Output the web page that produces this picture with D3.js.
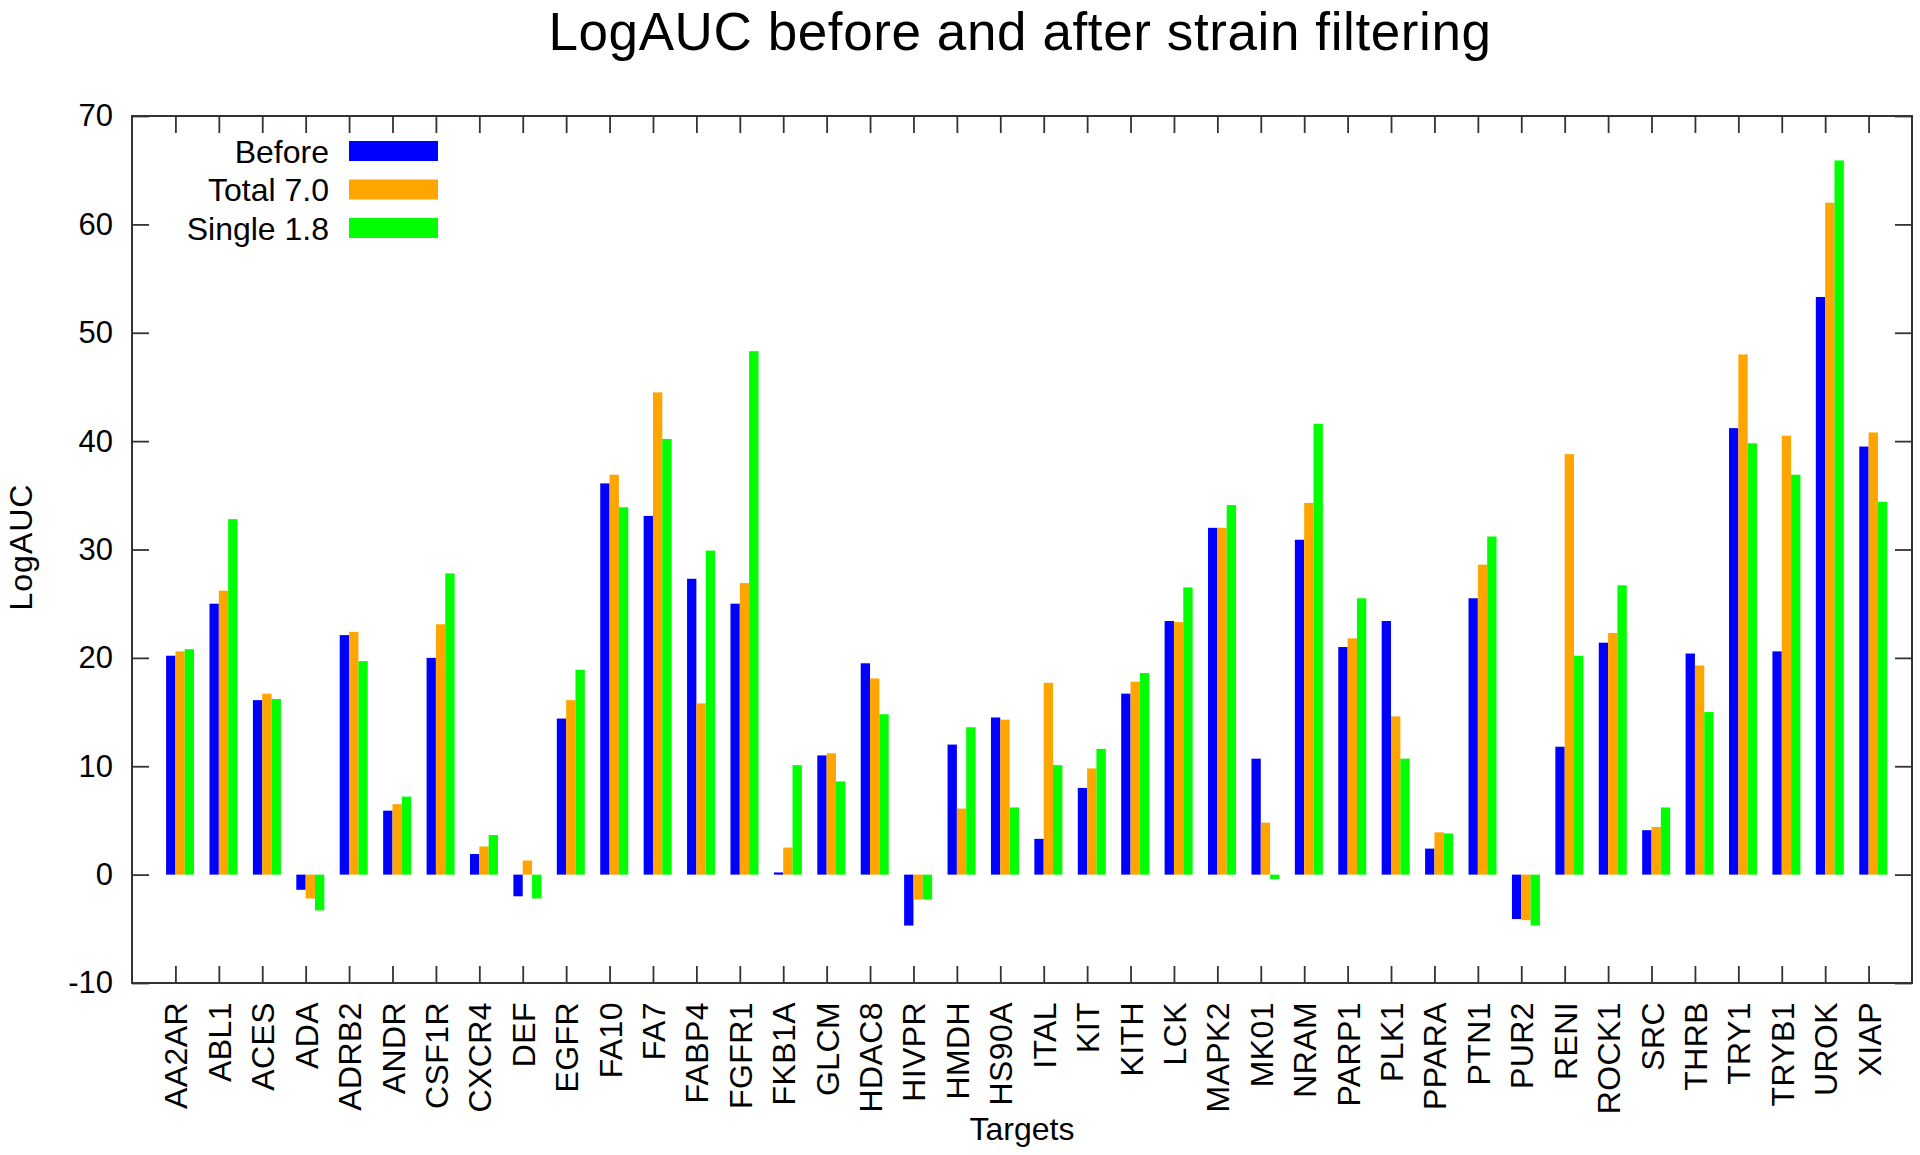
<!DOCTYPE html>
<html>
<head>
<meta charset="utf-8">
<script src="https://cdn.jsdelivr.net/npm/d3@7"></script>
<style>
  html, body { margin: 0; padding: 0; background: #fff; }
  svg { display: block; font-family: "Liberation Sans", Arial, Helvetica, sans-serif; }
</style>
</head>
<body>
<svg id="chart" width="1920" height="1155"></svg>
<script>
const categories = ["AA2AR","ABL1","ACES","ADA","ADRB2","ANDR","CSF1R","CXCR4","DEF","EGFR",
  "FA10","FA7","FABP4","FGFR1","FKB1A","GLCM","HDAC8","HIVPR","HMDH","HS90A",
  "ITAL","KIT","KITH","LCK","MAPK2","MK01","NRAM","PARP1","PLK1","PPARA",
  "PTN1","PUR2","RENI","ROCK1","SRC","THRB","TRY1","TRYB1","UROK","XIAP"];

const before = [20.2,25.0,16.1,-1.4,22.1,5.9,20.0,1.9,-2.0,14.4,
  36.1,33.1,27.3,25.0,0.2,11.0,19.5,-4.7,12.0,14.5,
  3.3,8.0,16.7,23.4,32.0,10.7,30.9,21.0,23.4,2.4,
  25.5,-4.1,11.8,21.4,4.1,20.4,41.2,20.6,53.3,39.5];

const total = [20.6,26.2,16.7,-2.2,22.4,6.5,23.1,2.6,1.3,16.1,
  36.9,44.5,15.8,26.9,2.5,11.2,18.1,-2.3,6.1,14.3,
  17.7,9.8,17.8,23.3,32.0,4.8,34.3,21.8,14.6,3.9,
  28.6,-4.2,38.8,22.3,4.4,19.3,48.0,40.5,62.0,40.8];

const single = [20.8,32.8,16.2,-3.3,19.7,7.2,27.8,3.65,-2.2,18.9,
  33.9,40.2,29.9,48.3,10.1,8.6,14.8,-2.3,13.6,6.2,
  10.1,11.6,18.6,26.5,34.1,-0.4,41.6,25.5,10.7,3.8,
  31.2,-4.7,20.2,26.7,6.2,15.0,39.8,36.9,65.9,34.4];

const seriesNames = ["Before", "Total 7.0", "Single 1.8"];
const seriesColors = ["#0000ff", "#ffa500", "#00ff00"];
const yTickValues = [-10, 0, 10, 20, 30, 40, 50, 60, 70];

const title = "LogAUC before and after strain filtering";
const xTitle = "Targets";
const yTitle = "LogAUC";

const svg = d3.select("#chart");
const L = 132, R = 1912, T = 116, B = 983;

const x = d3.scalePoint().domain(categories).range([L, R]).padding(1);
const y = d3.scaleLinear().domain([-10, 70]).range([B, T]);
const step = x.step();
const bw = step * 0.215;

const series = [before, total, single];

// bars
series.forEach((vals, si) => {
  svg.append("g")
    .selectAll("rect")
    .data(categories.map((c, i) => ({c, v: vals[i]})))
    .join("rect")
    .attr("x", d => x(d.c) + (si - 1) * bw)
    .attr("width", bw)
    .attr("y", d => y(Math.max(0, d.v)))
    .attr("height", d => Math.abs(y(d.v) - y(0)))
    .attr("fill", seriesColors[si]);
});

// axes with inward ticks (gnuplot style)
const tickLen = 17;
const axisStyle = g => {
  g.select(".domain").remove();
  g.selectAll(".tick line").attr("stroke", "#333").attr("stroke-width", 1.8);
};
const FONT = "Liberation Sans, Arial, sans-serif";

svg.append("g").attr("transform", `translate(${L},0)`)
  .call(d3.axisLeft(y).tickValues(yTickValues).tickSize(-tickLen).tickPadding(19).tickFormat(d => String(d)))
  .call(axisStyle)
  .call(g => g.selectAll("text").attr("font-size", 31).attr("fill", "#000").attr("font-family", FONT));

svg.append("g").attr("transform", `translate(${R},0)`)
  .call(d3.axisRight(y).tickValues(yTickValues).tickSize(-tickLen).tickFormat(""))
  .call(axisStyle);

const xb = svg.append("g").attr("transform", `translate(0,${B})`)
  .call(d3.axisBottom(x).tickSize(-tickLen).tickPadding(0))
  .call(axisStyle);
xb.selectAll("text")
  .attr("font-size", 32).attr("fill", "#000").attr("font-family", FONT)
  .attr("letter-spacing", "0.4px")
  .attr("text-anchor", "end")
  .attr("transform", "rotate(-90)")
  .attr("x", -19).attr("y", 0).attr("dy", "0.36em");

svg.append("g").attr("transform", `translate(0,${T})`)
  .call(d3.axisTop(x).tickSize(-tickLen).tickFormat(""))
  .call(axisStyle);

// frame
svg.append("rect").attr("x", L).attr("y", T).attr("width", R - L).attr("height", B - T)
  .attr("fill", "none").attr("stroke", "#333").attr("stroke-width", 2);

// titles
svg.append("text").attr("x", 1020).attr("y", 50).attr("text-anchor", "middle")
  .attr("font-size", 53).attr("letter-spacing", "0.6px").text(title);
svg.append("text").attr("x", (L + R) / 2).attr("y", 1140).attr("text-anchor", "middle")
  .attr("font-size", 32).text(xTitle);
svg.append("text").attr("transform", `translate(32,547) rotate(-90)`)
  .attr("text-anchor", "middle").attr("font-size", 32).attr("letter-spacing", "1px").text(yTitle);

// legend
const lg = svg.append("g");
seriesNames.forEach((name, i) => {
  const cy = 151 + i * 38.5;
  lg.append("text").attr("x", 329).attr("y", cy).attr("dy", "0.36em")
    .attr("text-anchor", "end").attr("font-size", 32).text(name);
  lg.append("rect").attr("x", 349).attr("y", cy - 10).attr("width", 89).attr("height", 20)
    .attr("fill", seriesColors[i]);
});
</script>
</body>
</html>
